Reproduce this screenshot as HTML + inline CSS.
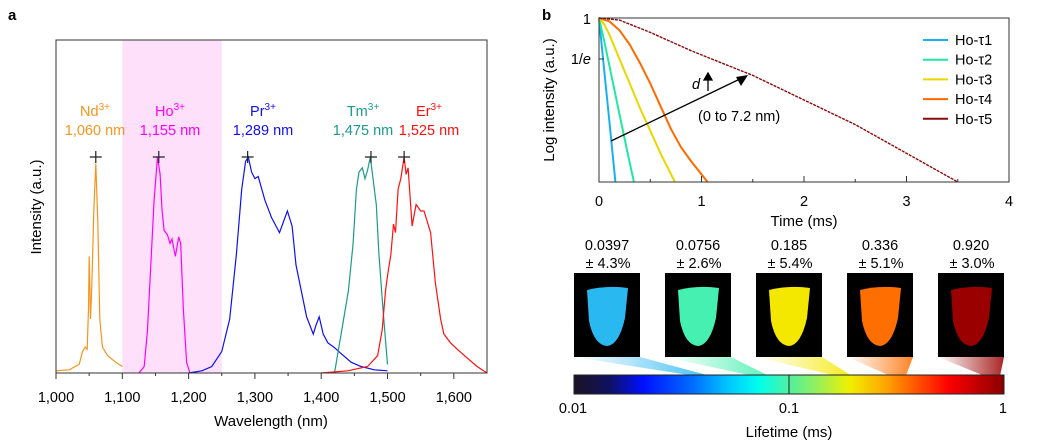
<!DOCTYPE html>
<html><head><meta charset="utf-8"><style>
body{margin:0;background:#fff;}
svg{display:block;font-family:"Liberation Sans",Arial,sans-serif;}
</style></head><body>
<svg id="fig" width="1041" height="447" viewBox="0 0 1041 447">
<defs>
<linearGradient id="cbar" x1="0" x2="1" y1="0" y2="0">
<stop offset="0" stop-color="#1c1420"/><stop offset="0.08" stop-color="#101060"/><stop offset="0.16" stop-color="#0010ff"/><stop offset="0.28" stop-color="#0070ff"/><stop offset="0.36" stop-color="#00c8ff"/><stop offset="0.43" stop-color="#00ffee"/><stop offset="0.5" stop-color="#50f0a0"/><stop offset="0.56" stop-color="#90f060"/><stop offset="0.64" stop-color="#f0f000"/><stop offset="0.73" stop-color="#ffa000"/><stop offset="0.8" stop-color="#ff5000"/><stop offset="0.87" stop-color="#ff0000"/><stop offset="1" stop-color="#8a0000"/>
</linearGradient>
</defs>
<g id="pa"></g>
<g id="pb"></g>
<g id="pc"></g>
</svg>
<script>
const NS="http://www.w3.org/2000/svg";
function mk(parent,tag,attrs,text){const e=document.createElementNS(NS,tag);for(const k in attrs)e.setAttribute(k,attrs[k]);if(text!==undefined)e.textContent=text;parent.appendChild(e);return e;}
const FS=14.5, FT=15;

// ---------- Panel a data ----------
const ndWl=[1000,1020,1035,1040,1044,1047,1049,1050,1052,1054,1057,1060,1063,1066,1070,1078,1090,1100];
const ndI=[0.01,0.015,0.04,0.1,0.12,0.11,0.3,0.54,0.25,0.4,0.75,0.97,0.7,0.25,0.12,0.08,0.05,0.03];
const hoWl=[1125,1133,1138,1143,1148,1153,1157,1160,1163,1168,1172,1175,1180,1185,1188,1192,1197,1202];
const hoI=[0,0.03,0.2,0.5,0.8,1.0,0.92,0.75,0.66,0.64,0.6,0.62,0.54,0.63,0.6,0.3,0.05,0];
const prWl=[1200,1220,1235,1250,1262,1272,1280,1286,1290,1295,1300,1305,1315,1325,1337,1349,1356,1362,1370,1378,1388,1392,1397,1403,1410,1419,1430,1445,1460,1480,1500];
const prI=[0,0.01,0.03,0.1,0.25,0.55,0.85,0.98,1.0,0.93,0.9,0.91,0.8,0.72,0.65,0.75,0.68,0.5,0.38,0.26,0.18,0.22,0.26,0.18,0.14,0.12,0.09,0.05,0.03,0.015,0.01];
const tmWl=[1420,1430,1441,1448,1453,1457,1462,1466,1470,1474,1478,1483,1487,1493,1500];
const tmI=[0,0.18,0.38,0.6,0.85,0.93,0.95,0.9,0.94,1.0,0.9,0.78,0.55,0.3,0.04];
const erWl=[1400,1440,1470,1485,1492,1497,1500,1505,1509,1512,1516,1520,1525,1528,1531,1537,1543,1550,1555,1565,1572,1580,1585,1595,1605,1620,1635,1650];
const erI=[0,0.01,0.03,0.08,0.2,0.38,0.45,0.55,0.69,0.65,0.85,0.9,1.0,0.92,0.95,0.68,0.78,0.75,0.75,0.65,0.42,0.25,0.18,0.14,0.11,0.07,0.03,0];
const peakWl=[1060,1155,1289,1475,1525];
const aTicks=[1000,1100,1200,1300,1400,1500,1600];
const aTickLabels=["1,000","1,100","1,200","1,300","1,400","1,500","1,600"];

const A={x0:56,x1:487,y0:40,y1:373,wmin:1000,wmax:1650,base:373,scale:216};
const ax=w=>A.x0+(w-A.wmin)/(A.wmax-A.wmin)*(A.x1-A.x0);
const ay=v=>A.base-v*A.scale;
const pa=document.getElementById('pa');
let t=mk(pa,'text',{x:8,y:20,'font-size':15,'font-weight':'bold'},'a');


let band=mk(pa,'rect',{x:ax(1100),y:A.y0,width:ax(1250)-ax(1100),height:A.y1-A.y0,fill:'#ffe0fb'});


const series=[[ndWl,ndI,'#f7941d','nd-spectrum'],[hoWl,hoI,'#ff00ff','ho-spectrum'],[prWl,prI,'#1010ee','pr-spectrum'],[tmWl,tmI,'#1a9b8c','tm-spectrum'],[erWl,erI,'#ff1010','er-spectrum']];
series.forEach(s=>{let d=s[0].map((w,i)=>(i?'L':'M')+ax(w).toFixed(1)+','+ay(s[1][i]).toFixed(1)).join('');
let p=mk(pa,'path',{d:d,fill:'none',stroke:s[2],'stroke-width':1.2});

});
peakWl.forEach(w=>{let g=mk(pa,'path',{d:`M${ax(w)-6},157H${ax(w)+6}M${ax(w)},151V163`,stroke:'#222','stroke-width':1.2});

});
let fr=mk(pa,'rect',{x:A.x0,y:A.y0,width:A.x1-A.x0,height:A.y1-A.y0,fill:'none',stroke:'#333','stroke-width':1});


aTicks.forEach((w,i)=>{mk(pa,'line',{x1:ax(w),x2:ax(w),y1:373,y2:379,stroke:'#333'});
let l=mk(pa,'text',{x:ax(w),y:402,'font-size':FS,'text-anchor':'middle'},aTickLabels[i]);

});
for(let w=1050;w<1650;w+=100)mk(pa,'line',{x1:ax(w),x2:ax(w),y1:373,y2:376,stroke:'#333'});
t=mk(pa,'text',{x:271,y:426,'font-size':FT,'text-anchor':'middle'},'Wavelength (nm)');


t=mk(pa,'text',{x:41,y:207,'font-size':FT,'text-anchor':'middle',transform:'rotate(-90 41 207)'},'Intensity (a.u.)');


const ionNames=['Nd','Ho','Pr','Tm','Er'];
const ionWl=['1,060 nm','1,155 nm','1,289 nm','1,475 nm','1,525 nm'];
const ionX=[95,170,263,363,429];
const ionC=['#f7941d','#ff00ff','#1010ee','#1a9b8c','#ff1010'];
ionNames.forEach((n,i)=>{let g=mk(pa,'text',{x:ionX[i],y:116,'font-size':FS,'text-anchor':'middle',fill:ionC[i]});


mk(g,'tspan',{},n);mk(g,'tspan',{dy:-6,'font-size':10},'3+');
let w=mk(pa,'text',{x:ionX[i],y:135,'font-size':FS,'text-anchor':'middle',fill:ionC[i]},ionWl[i]);

});

// ---------- Panel b data ----------
const tau1T=[0,0.05,0.1,0.16];
const tau1L=[0,-1.25,-2.5,-4];
const tau2T=[0,0.05,0.1,0.2,0.28,0.34];
const tau2L=[0,-0.55,-1.15,-2.35,-3.3,-4];
const tau3T=[0,0.05,0.1,0.2,0.3,0.4,0.5,0.6,0.74];
const tau3L=[0,-0.15,-0.4,-1.0,-1.6,-2.2,-2.75,-3.3,-4];
const tau4T=[0,0.1,0.2,0.3,0.4,0.5,0.6,0.7,0.8,0.9,1.06];
const tau4L=[0,-0.08,-0.3,-0.65,-1.1,-1.6,-2.15,-2.7,-3.15,-3.5,-4];
const tau5T=[0,0.2,0.5,0.9,1.2,1.5,2.0,2.5,3.0,3.5];
const tau5L=[0,-0.05,-0.35,-0.8,-1.1,-1.4,-2.0,-2.6,-3.3,-4];
const bTicks=[0,1,2,3,4];
const B={x0:599,x1:1009,y0:18,y1:182,tmax:4,lmin:-4};
const bx=v=>B.x0+v/B.tmax*(B.x1-B.x0);
const by=l=>B.y0+l/B.lmin*(B.y1-B.y0);
const pb=document.getElementById('pb');
t=mk(pb,'text',{x:542,y:20,'font-size':15,'font-weight':'bold'},'b');


const decays=[[tau1T,tau1L,'#1ab0f0','ho-tau1-curve'],[tau2T,tau2L,'#20e8a0','ho-tau2-curve'],[tau3T,tau3L,'#e8d800','ho-tau3-curve'],[tau4T,tau4L,'#ff6a00','ho-tau4-curve'],[tau5T,tau5L,'#8b0a0a','ho-tau5-curve']];
decays.forEach(s=>{let d=s[0].map((v,i)=>(i?'L':'M')+bx(v).toFixed(1)+','+by(s[1][i]).toFixed(1)).join('');
let p=mk(pb,'path',{d:d,fill:'none',stroke:s[2],'stroke-width':s[3]=='ho-tau5-curve'?1.4:2,'stroke-dasharray':s[3]=='ho-tau5-curve'?'3 1':'none'});

});
fr=mk(pb,'rect',{x:B.x0,y:B.y0,width:B.x1-B.x0,height:B.y1-B.y0,fill:'none',stroke:'#333','stroke-width':1});


bTicks.forEach(v=>{mk(pb,'line',{x1:bx(v),x2:bx(v),y1:182,y2:176,stroke:'#333'});
let l=mk(pb,'text',{x:bx(v),y:206,'font-size':FS,'text-anchor':'middle'},String(v));

});
for(let v=0.5;v<4;v+=1)mk(pb,'line',{x1:bx(v),x2:bx(v),y1:182,y2:179,stroke:'#333'});
mk(pb,'line',{x1:599,x2:604,y1:by(-1),y2:by(-1),stroke:'#333'});
t=mk(pb,'text',{x:591,y:24,'font-size':FS,'text-anchor':'end'},'1');


t=mk(pb,'text',{x:591,y:64,'font-size':FS,'text-anchor':'end'});
mk(t,'tspan',{},'1/');mk(t,'tspan',{'font-style':'italic'},'e');


t=mk(pb,'text',{x:804,y:226,'font-size':FT,'text-anchor':'middle'},'Time (ms)');


t=mk(pb,'text',{x:554,y:100,'font-size':FT,'text-anchor':'middle',transform:'rotate(-90 554 100)'},'Log intensity (a.u.)');


const legNames=['Ho-τ1','Ho-τ2','Ho-τ3','Ho-τ4','Ho-τ5'];
legNames.forEach((n,i)=>{let y=40+i*19.7;
let g=mk(pb,'g',{});


mk(g,'line',{x1:923,x2:948,y1:y,y2:y,stroke:decays[i][2],'stroke-width':2});
mk(g,'text',{x:955,y:y+5,'font-size':FS},n);});
let ar=mk(pb,'path',{d:'M611,141L742,78',stroke:'#000','stroke-width':1.3,fill:'none'});


mk(pb,'path',{d:'M748,75L736,77L741,86Z',fill:'#000'});
t=mk(pb,'text',{x:692,y:89,'font-size':FS,'font-style':'italic'},'d');


mk(pb,'path',{d:'M708,91V76M704,80L708,73L712,80Z',stroke:'#000','stroke-width':1.3,fill:'#000'});
t=mk(pb,'text',{x:698,y:121,'font-size':FS},'(0 to 7.2 nm)');



// ---------- Lifetime images & colorbar ----------
const lifeVals=[0.0397,0.0756,0.185,0.336,0.920];
const lifeErr=['± 4.3%','± 2.6%','± 5.4%','± 5.1%','± 3.0%'];
const lifeLabels=['0.0397','0.0756','0.185','0.336','0.920'];
const imgColors=['#2ab8f0','#45f0b0','#f5e800','#ff6e00','#9a0000'];
const C={x0:574,x1:1004,y0:375,y1:394,lmin:-2,lmax:0};
const cx=v=>C.x0+(Math.log10(v)-C.lmin)/(C.lmax-C.lmin)*(C.x1-C.x0);
const pc=document.getElementById('pc');
const imgX=[574,665,756,847,938];
lifeVals.forEach((v,i)=>{const x=imgX[i],w=66,top=273,bot=357;
const gid='tg'+i;const lg=mk(pc,'linearGradient',{id:gid,x1:0,x2:1,y1:0,y2:0});
mk(lg,'stop',{offset:0,'stop-color':imgColors[i],'stop-opacity':0});mk(lg,'stop',{offset:1,'stop-color':imgColors[i],'stop-opacity':0.85});
const p=cx(v);
let tr=mk(pc,'path',{d:`M${x},${bot}L${x+w},${bot}L${p+4},${C.y0}L${p-14},${C.y0}Z`,fill:`url(#${gid})`});


let im=mk(pc,'rect',{x:x,y:top,width:w,height:bot-top,fill:'#000'});


let cx0=x+w/2;
let sh=mk(pc,'path',{d:`M${cx0-20},${top+17}Q${cx0},${top+12} ${cx0+21},${top+15}L${cx0+18},${top+45}Q${cx0+12},${top+72} ${cx0},${top+73}Q${cx0-13},${top+72} ${cx0-18},${top+48}Z`,fill:imgColors[i]});


let l1=mk(pc,'text',{x:cx0,y:250,'font-size':FS,'text-anchor':'middle'},lifeLabels[i]);


let l2=mk(pc,'text',{x:cx0+1,y:268,'font-size':FS,'text-anchor':'middle'},lifeErr[i]);

});
let cb=mk(pc,'rect',{x:C.x0,y:C.y0,width:C.x1-C.x0,height:C.y1-C.y0,fill:'url(#cbar)',stroke:'#222','stroke-width':1});


mk(pc,'line',{x1:cx(0.1),x2:cx(0.1),y1:C.y0,y2:C.y1,stroke:'#222','stroke-width':1});
const cbTicks=[0.01,0.1,1];
const cbLabels=['0.01','0.1','1'];
cbTicks.forEach((v,i)=>{let l=mk(pc,'text',{x:cx(v)-(i==0?1:0),y:413,'font-size':FS,'text-anchor':i==2?'end':'middle'},cbLabels[i]);
if(i==2)l.setAttribute('x',cx(v)+3);

});
t=mk(pc,'text',{x:789,y:437,'font-size':FT,'text-anchor':'middle'},'Lifetime (ms)');


</script>
</body></html>
